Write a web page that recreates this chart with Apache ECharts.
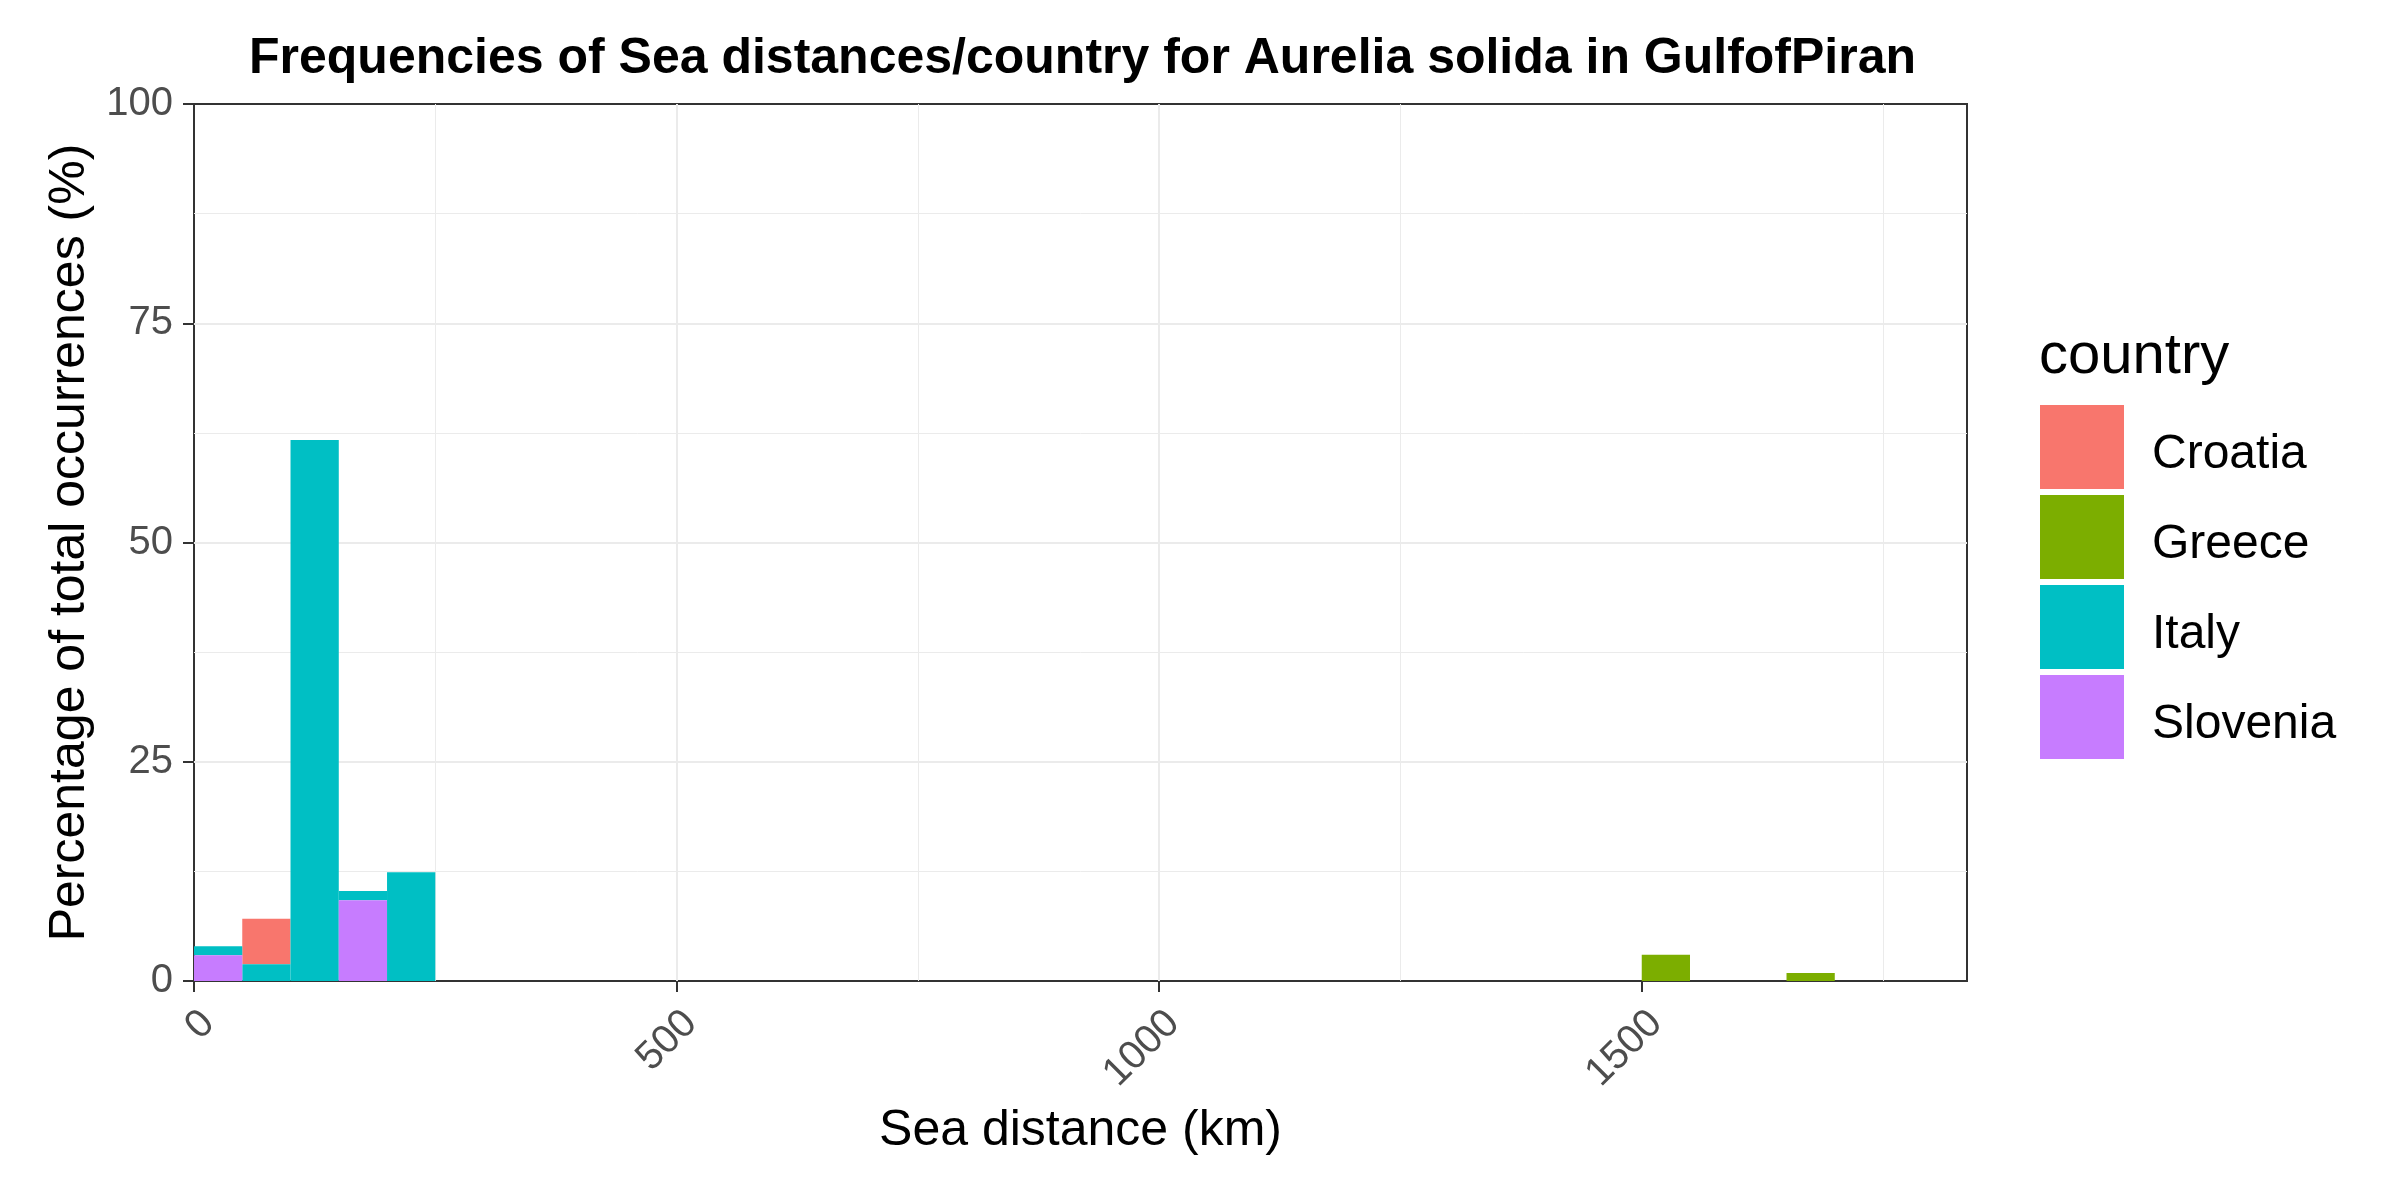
<!DOCTYPE html>
<html>
<head>
<meta charset="utf-8">
<title>Sea distances</title>
<script src="https://cdn.jsdelivr.net/npm/echarts@6/dist/echarts.min.js"></script>
<style>
	html, body { margin: 0; padding: 0; background: #fff; }
	#main { width: 2400px; height: 1200px; }
</style>
</head>
<body>
<div id="main"></div>
<script>
//分组 / 图例顺序
var countries = ['Croatia', 'Greece', 'Italy', 'Slovenia'];
var countryColors = ['#F8766D', '#7CAE00', '#00BFC4', '#C77CFF'];
//堆叠顺序（从下到上）
var stackOrder = ['Slovenia', 'Italy', 'Greece', 'Croatia'];

//直方图分箱宽度 (km)
var binWidth = 50;

//各国分箱起点 (km) 与百分比 (%)
var croatiaBins = [50];
var croatiaPct = [5.2];
var greeceBins = [1500, 1650];
var greecePct = [3.0, 0.9];
var italyBins = [0, 50, 100, 150, 200];
var italyPct = [1.0, 1.9, 61.7, 1.05, 12.4];
var sloveniaBins = [0, 150];
var sloveniaPct = [2.95, 9.2];

//坐标轴刻度
var xTicks = [0, 500, 1000, 1500];
var yTicks = [0, 25, 50, 75, 100];

(function() {
	var font = 'Liberation Sans, Arial, sans-serif';
	var bins = {
		Croatia: [croatiaBins, croatiaPct],
		Greece: [greeceBins, greecePct],
		Italy: [italyBins, italyPct],
		Slovenia: [sloveniaBins, sloveniaPct]
	};

	//计算堆叠：每个分箱的累计底部
	var base = {};
	var seriesData = {};
	for (var i = 0; i < stackOrder.length; i++) {
		var name = stackOrder[i];
		var starts = bins[name][0], vals = bins[name][1];
		seriesData[name] = [];
		for (var j = 0; j < starts.length; j++) {
			var b = base[starts[j]] || 0;
			seriesData[name].push([starts[j], starts[j] + binWidth, b, b + vals[j]]);
			base[starts[j]] = b + vals[j];
		}
	}

	//矩形绘制
	function renderBin(params, api) {
		var p0 = api.coord([api.value(0), api.value(3)]);
		var p1 = api.coord([api.value(1), api.value(2)]);
		return {
			type: 'rect',
			shape: { x: p0[0], y: p0[1], width: p1[0] - p0[0], height: p1[1] - p0[1] },
			style: api.style()
		};
	}

	var series = [];
	for (var k = 0; k < countries.length; k++) {
		series.push({
			name: countries[k],
			type: 'custom',
			renderItem: renderBin,
			itemStyle: { color: countryColors[k] },
			encode: { x: [0, 1], y: [2, 3] },
			data: seriesData[countries[k]],
			z: 3
		});
	}

	var myChart = echarts.init(document.getElementById('main'));
	myChart.setOption({
		backgroundColor: '#ffffff',
		animation: false,
		title: [{
			text: 'Frequencies of Sea distances/country for Aurelia solida in GulfofPiran',
			left: 249,
			top: 34,
			padding: 0,
			textStyle: { fontFamily: font, fontSize: 50, fontWeight: 'bold', color: '#000' }
		}, {
			text: 'country',
			left: 2039,
			top: 328,
			padding: 0,
			textStyle: { fontFamily: font, fontSize: 58, fontWeight: 'normal', color: '#000' }
		}],
		legend: {
			data: countries,
			orient: 'vertical',
			left: 2040,
			top: 405,
			padding: 0,
			itemWidth: 84,
			itemHeight: 84,
			itemGap: 6,
			icon: 'rect',
			formatter: '{t|{name}}',
			textStyle: {
				fontFamily: font, fontSize: 48, color: '#000',
				rich: { t: { fontFamily: font, fontSize: 48, color: '#000', padding: [16, 0, 0, 23] } }
			}
		},
		grid: {
			left: 194,
			top: 104,
			width: 1773,
			height: 877,
			show: true,
			borderColor: '#333333',
			borderWidth: 2,
			backgroundColor: '#ffffff'
		},
		xAxis: {
			type: 'value',
			min: 0,
			max: 1837,
			interval: 500,
			name: 'Sea distance (km)',
			nameLocation: 'middle',
			nameGap: 125,
			nameTextStyle: { fontFamily: font, fontSize: 50, color: '#000' },
			axisLine: { show: false },
			axisTick: { show: true, length: 11, lineStyle: { color: '#333333', width: 2 }, customValues: xTicks },
			axisLabel: {
				fontFamily: font, fontSize: 40, color: '#4d4d4d', rotate: 45, margin: 22,
				align: 'right', verticalAlign: 'top',
				customValues: xTicks,
				formatter: function(v) { return String(v); }
			},
			splitLine: { showMinLine: false, showMaxLine: false, lineStyle: { color: '#ebebeb', width: 2 } },
			minorTick: { show: false, splitNumber: 2 },
			minorSplitLine: { show: true, lineStyle: { color: '#ebebeb', width: 1 } }
		},
		yAxis: {
			type: 'value',
			min: 0,
			max: 100,
			interval: 25,
			name: 'Percentage of total occurrences (%)',
			nameLocation: 'middle',
			nameGap: 99,
			nameTextStyle: { fontFamily: font, fontSize: 50, color: '#000' },
			axisLine: { show: false },
			axisTick: { show: true, length: 11, lineStyle: { color: '#333333', width: 2 } },
			axisLabel: { fontFamily: font, fontSize: 40, color: '#4d4d4d', margin: 21, customValues: yTicks },
			splitLine: { showMinLine: false, showMaxLine: false, lineStyle: { color: '#ebebeb', width: 2 } },
			minorTick: { show: false, splitNumber: 2 },
			minorSplitLine: { show: true, lineStyle: { color: '#ebebeb', width: 1 } }
		},
		series: series
	});
})();
</script>
</body>
</html>
